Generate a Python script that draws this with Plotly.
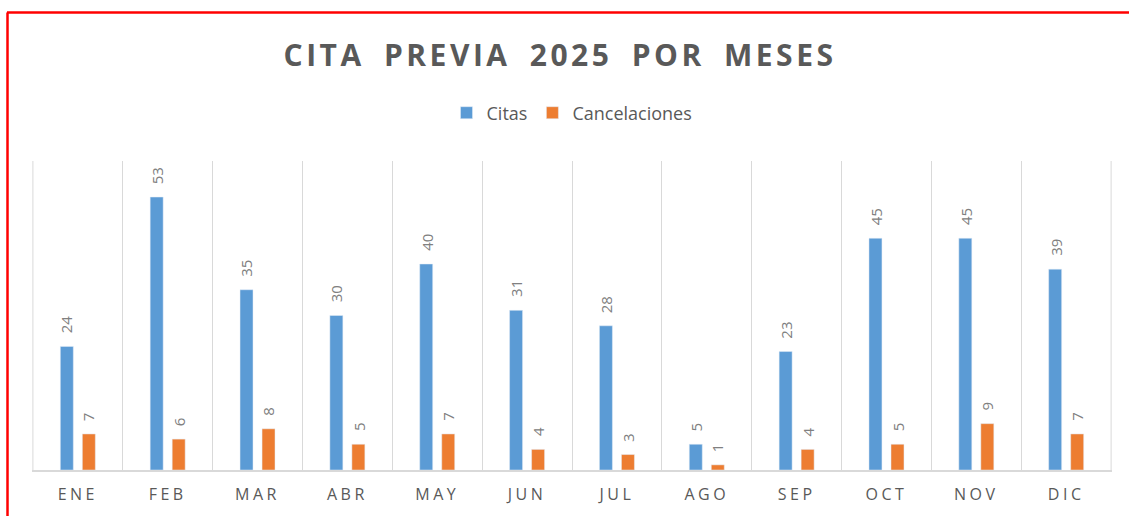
import plotly.graph_objects as go

months = ["ENE", "FEB", "MAR", "ABR", "MAY", "JUN", "JUL", "AGO", "SEP", "OCT", "NOV", "DIC"]
citas = [24, 53, 35, 30, 40, 31, 28, 5, 23, 45, 45, 39]
cancelaciones = [7, 6, 8, 5, 7, 4, 3, 1, 4, 5, 9, 7]

BLUE = "#5b9bd5"
ORANGE = "#ed7d31"
GRID = "#d9d9d9"
TXT = "#595959"
LBL = "#808080"
FONT = "Open Sans"

fig = go.Figure()
fig.add_trace(go.Bar(name="Citas", x=months, y=citas, marker_color=BLUE, hoverinfo="x+y"))
fig.add_trace(go.Bar(name="Cancelaciones", x=months, y=cancelaciones, marker_color=ORANGE, hoverinfo="x+y"))

annotations = []
for series, shift in ((citas, -11), (cancelaciones, 11)):
    for m, v in zip(months, series):
        annotations.append(dict(
            x=m, y=v, xref="x", yref="y", text=str(v), showarrow=False,
            textangle=-90, xanchor="center", yanchor="bottom",
            xshift=shift, yshift=11,
            font=dict(family=FONT, size=15, color=LBL),
        ))

W, H = 1129, 516
L, R, T, B = 32, 17, 161, 46
pw, ph = W - L - R, H - T - B

def px_x(p):
    return (p - L) / pw

def px_y(p):
    return (H - B - p) / ph

n = len(months)
shapes = [
    # outer category boundaries (edge grid lines)
    dict(type="line", xref="x", yref="paper", x0=-0.5, x1=-0.5, y0=0, y1=1,
         line=dict(color=GRID, width=1), layer="below"),
    dict(type="line", xref="x", yref="paper", x0=n - 0.5, x1=n - 0.5, y0=0, y1=1,
         line=dict(color=GRID, width=1), layer="below"),
    # red frame
    dict(type="line", xref="paper", yref="paper", x0=px_x(7), x1=px_x(W + 5),
         y0=px_y(12.5), y1=px_y(12.5), line=dict(color="#ff0000", width=2.5)),
    dict(type="line", xref="paper", yref="paper", x0=px_x(7.5), x1=px_x(7.5),
         y0=px_y(12.5), y1=px_y(H + 5), line=dict(color="#ff0000", width=2.5)),
]

fig.update_layout(
    width=W, height=H,
    margin=dict(l=L, r=R, t=T, b=B),
    paper_bgcolor="white", plot_bgcolor="white",
    barmode="group", bargap=0.51, bargroupgap=0.41,
    title=dict(text="<b>CITA PREVIA 2025 POR MESES</b>", x=(560) / W, xanchor="center",
               y=1 - 55 / H, yanchor="middle",
               font=dict(family=FONT, size=30, color=TXT)),
    legend=dict(orientation="h", x=0.5, xanchor="center", y=px_y(113), yanchor="middle",
                font=dict(family=FONT, size=18, color=TXT), traceorder="normal",
                itemwidth=30),
    xaxis=dict(type="category", range=[-0.51, n - 0.49], tickson="boundaries",
               showgrid=True, gridcolor=GRID, gridwidth=1,
               showline=True, linecolor=GRID, linewidth=1.5, ticks="",
               ticklabelstandoff=9,
               tickfont=dict(family=FONT, size=16, color=TXT), fixedrange=True),
    yaxis=dict(range=[0, 60], visible=False, showgrid=False, zeroline=False, fixedrange=True),
    annotations=annotations,
    shapes=shapes,
    showlegend=True,
)

post = """
(function(){
  document.body.style.margin='0';
  var gd = document.getElementById('{plot_id}');
  function sp(){
    gd.querySelectorAll('.xtick text').forEach(function(t){ t.setAttribute('letter-spacing','3.5px'); });
    gd.querySelectorAll('.gtitle').forEach(function(t){ t.setAttribute('letter-spacing','3.5px'); t.setAttribute('word-spacing','8px'); });
  }
  sp();
  if (gd.on) gd.on('plotly_afterplot', sp);
})();
"""

fig.write_html("out.html", post_script=post, config={"displayModeBar": False})
